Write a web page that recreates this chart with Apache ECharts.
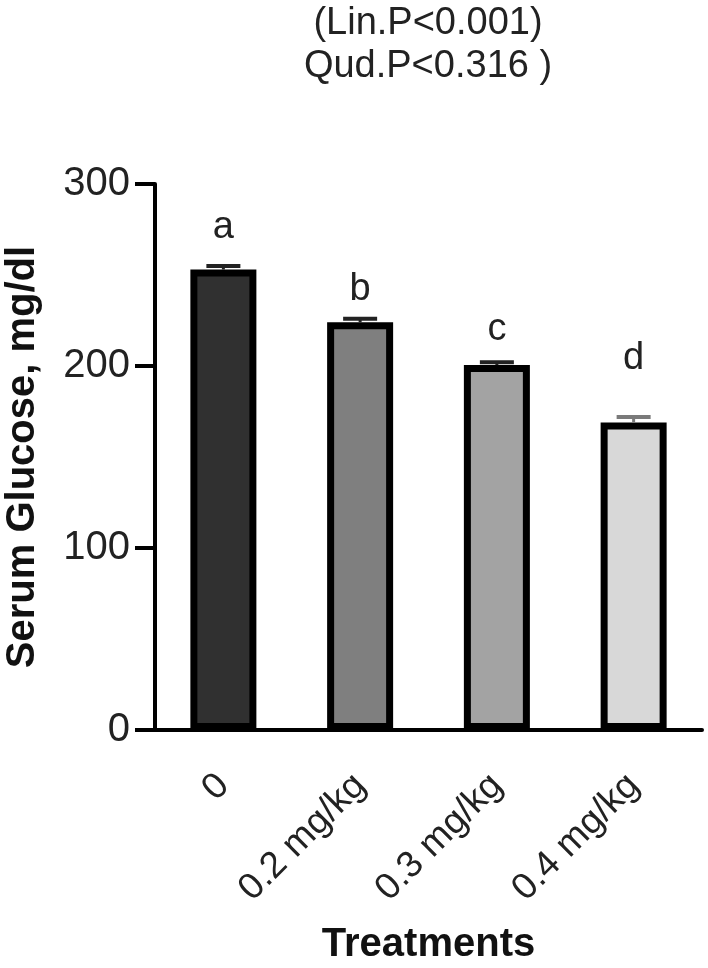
<!DOCTYPE html>
<html>
<head>
<meta charset="utf-8">
<script src="https://cdn.jsdelivr.net/npm/echarts@6/dist/echarts.min.js"></script>
<style>
  html, body { margin: 0; background: #fff; }
  #chart { width: 708px; height: 968px; }
</style>
</head>
<body>
<div id="chart"></div>
<script>
  // data
  const categories = ['0', '0.2 mg/kg', '0.3 mg/kg', '0.4 mg/kg']
  const means = [253, 224, 200.5, 169]
  const errors = [2, 2, 1.5, 3]
  const letters = ['a', 'b', 'c', 'd']
  const letterY = [276, 242, 220, 204]
  const barColors = ['#303030', '#7f7f7f', '#a3a3a3', '#d8d8d8']
  const capColors = ['#222', '#222', '#222', '#7a7a7a']
  const titleLines = ['(Lin.P<0.001)', 'Qud.P<0.316 )']

  const FONT = '"Liberation Sans", Arial, sans-serif'
  let chart = echarts.init(document.getElementById('chart'))

  /*误差线*/
  let errData = means.map((m, i) => [i, m, errors[i]])
  /*字母标注*/
  let letterData = letterY.map((v, i) => [i, v, letters[i]])

  let option = {
    animation: false,
    graphic: [{
      type: 'text',
      x: 428,
      y: 2,
      style: {
        text: titleLines.join('\n'),
        align: 'center',
        font: '38px ' + FONT,
        lineHeight: 43,
        fill: '#222'
      }
    }],
    grid: { left: 155, right: 6, top: 184, bottom: 238, outerBoundsMode: 'none' },
    xAxis: {
      type: 'category',
      data: categories,
      name: 'Treatments',
      nameLocation: 'middle',
      nameGap: 195,
      nameTextStyle: { fontFamily: FONT, fontWeight: 'bold', fontSize: 40, color: '#111' },
      axisLine: { lineStyle: { color: '#000', width: 4 } },
      axisTick: { alignWithLabel: true, length: 24, lineStyle: { color: '#000', width: 4 } },
      axisLabel: { rotate: 45, margin: 50, fontFamily: FONT, fontSize: 37, color: '#222' }
    },
    yAxis: {
      type: 'value',
      min: 0,
      max: 300,
      interval: 100,
      name: 'Serum Glucose, mg/dl',
      nameLocation: 'middle',
      nameGap: 112,
      nameTextStyle: { fontFamily: FONT, fontWeight: 'bold', fontSize: 40, color: '#111' },
      splitLine: { show: false },
      axisLine: { show: true, lineStyle: { color: '#000', width: 4 } },
      axisTick: { show: true, length: 20, lineStyle: { color: '#000', width: 4 } },
      axisLabel: { margin: 25, fontFamily: FONT, fontSize: 40, color: '#222' }
    },
    series: [{
      type: 'bar',
      barWidth: 66,
      data: means.map((m, i) => ({
        value: m,
        itemStyle: { color: barColors[i], borderColor: '#000', borderWidth: 7 }
      }))
    }, {
      type: 'custom',
      z: 5,
      data: errData,
      encode: { x: 0, y: 1 },
      renderItem: (params, api) => {
        let i = api.value(0)
        let base = api.coord([i, api.value(1)])
        let top = api.coord([i, api.value(1) + api.value(2)])
        let c = capColors[i]
        return {
          type: 'group',
          children: [{
            type: 'line',
            shape: { x1: base[0], y1: base[1], x2: top[0], y2: top[1] },
            style: { stroke: c, lineWidth: 3 }
          }, {
            type: 'line',
            shape: { x1: top[0] - 17, y1: top[1], x2: top[0] + 17, y2: top[1] },
            style: { stroke: c, lineWidth: 4 }
          }]
        }
      }
    }, {
      type: 'custom',
      z: 5,
      data: letterData,
      encode: { x: 0, y: 1 },
      renderItem: (params, api) => {
        let i = api.value(0)
        let p = api.coord([i, api.value(1)])
        return {
          type: 'text',
          x: p[0],
          y: p[1],
          style: {
            text: letters[i],
            font: '38px ' + FONT,
            fill: '#222',
            align: 'center',
            verticalAlign: 'middle'
          }
        }
      }
    }]
  }
  chart.setOption(option)
</script>
</body>
</html>
